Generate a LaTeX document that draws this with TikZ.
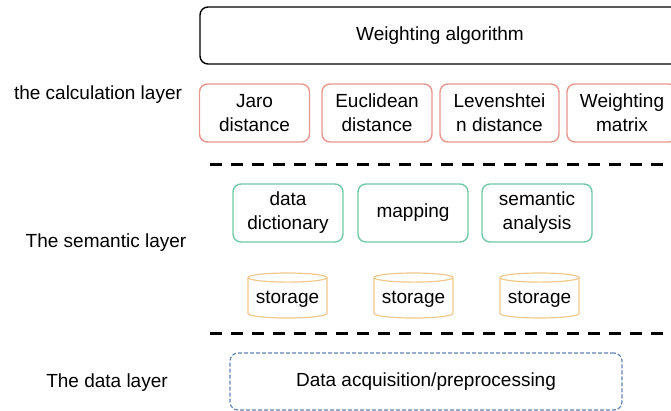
\documentclass[tikz,border=0pt]{standalone}
\usepackage{fontspec}
\setmainfont{Liberation Sans}
\usetikzlibrary{shapes.geometric}
\definecolor{calcred}{HTML}{E8978D}
\definecolor{semgreen}{HTML}{72C9A6}
\definecolor{storeorange}{HTML}{F0C98E}
\definecolor{datablue}{HTML}{6283B0}

\begin{document}
\begin{tikzpicture}[x=1pt,y=-1pt,
	box/.style = {draw, rounded corners=8pt, align=center, line width=1.4pt, minimum height=58pt, font=\fontsize{19}{24}\selectfont},
	store/.style = {draw=storeorange, cylinder, shape border rotate=90, aspect=0.13, line width=1.2pt, minimum width=79pt, minimum height=45pt, font=\fontsize{19}{24}\selectfont},
	layer/.style = {font=\fontsize{19}{24}\selectfont},
	divider/.style = {line width=3pt, dash pattern=on 12pt off 9pt}]
				\useasboundingbox (0,0) rectangle (671,411);
				% layer names
				\node[layer] (calc) at (98,95) {the calculation layer};
				\node[layer] (sem) at (106,243) {The semantic layer};
				\node[layer] (data) at (107,383) {The data layer};
				% calculation layer
				\node[box, minimum width=480pt, minimum height=57pt] (W) at (440,35.5) {Weighting algorithm};
				\begin{scope}[every node/.style={box, draw=calcred, minimum width=110pt}]
					\node (J) at (254.5,113) {Jaro\\distance};
					\node (E) at (377,113) {Euclidean\\distance};
					\node[minimum width=119pt] (L) at (499.5,113) {Levenshtei\\n distance};
					\node (M) at (622,113) {Weighting\\matrix};
				\end{scope}
				% semantic layer
				\begin{scope}[every node/.style={box, draw=semgreen, minimum width=110pt}]
					\node (D) at (288,213) {data\\dictionary};
					\node (P) at (413,213) {mapping};
					\node (S) at (537,213) {semantic\\analysis};
				\end{scope}
				\node[store] (S1) at (287.5,299) {storage};
				\node[store] (S2) at (413.5,299) {storage};
				\node[store] (S3) at (539.5,299) {storage};
				% data layer
				\node[box, draw=datablue, dash pattern=on 4pt off 2pt, line width=1.2pt, minimum width=392pt, minimum height=57pt] (A) at (426,381.5) {Data acquisition/preprocessing};
				% dividers
				\coordinate (d1a) at (210,165);
				\coordinate (d1b) at (671,165);
				\coordinate (d2a) at (210,333);
				\coordinate (d2b) at (671,333);
				\draw[divider] (d1a) -- (d1b);
				\draw[divider] (d2a) -- (d2b);
			\end{tikzpicture}
\end{document}
